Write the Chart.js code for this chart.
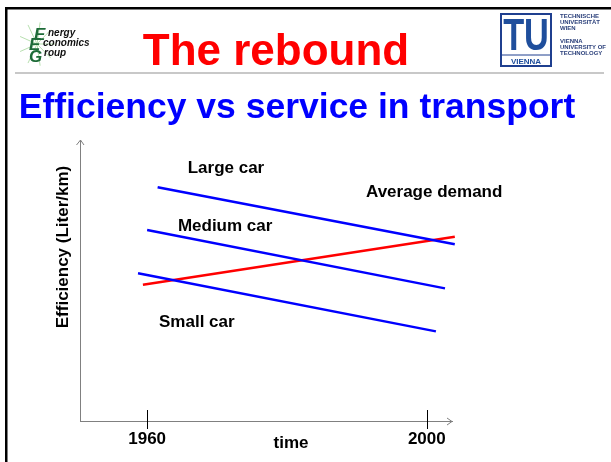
<!DOCTYPE html>
<html>
<head>
<meta charset="utf-8">
<script src="https://cdn.jsdelivr.net/npm/chart.js@4/dist/chart.umd.min.js"></script>
<style>
  body { margin: 0; background: #fff; overflow: hidden; }
  #reboundCanvas { display: block; }
</style>
</head>
<body>
<canvas id="reboundCanvas" width="611" height="462"></canvas>
<script>
const tickYears = [1960, 2000];
const largeCarYears = [1961.5, 2004];
const largeCarEff = [83.2, 62.9];
const mediumCarYears = [1960, 2002.6];
const mediumCarEff = [68.0, 47.2];
const smallCarYears = [1958.7, 2001.3];
const smallCarEff = [52.6, 31.9];
const demandYears = [1959.4, 2004];
const demandEff = [48.5, 65.6];

const FONT = '"Liberation Sans", Arial, sans-serif';

const toPoints = (xs, ys) => xs.map((x, i) => ({ x: x, y: ys[i] }));

// slide frame, logos and headings
const slidePlugin = {
  id: "slide_header",
  beforeDraw: (chart) => {
    const ctx = chart.ctx;
    ctx.save();
    ctx.fillStyle = "#fff";
    ctx.fillRect(0, 0, chart.width, chart.height);

    // black frame top + left
    ctx.fillStyle = "#000";
    ctx.fillRect(5, 7, chart.width - 5, 2.5);
    ctx.fillRect(5, 7, 2.5, chart.height - 7);

    // gray separator
    ctx.fillStyle = "#c8c8c8";
    ctx.fillRect(15, 72, 589, 2);

    // EEG logo
    ctx.strokeStyle = "#b8e0b0";
    ctx.lineWidth = 1;
    for (let i = 0; i < 9; i++) {
      const a = (i / 9) * Math.PI * 2;
      ctx.beginPath();
      ctx.moveTo(37, 44);
      ctx.lineTo(37 + Math.cos(a) * 18, 44 + Math.sin(a) * 22);
      ctx.stroke();
    }
    ctx.fillStyle = "#1d6b38";
    ctx.font = "italic bold 17px " + FONT;
    ctx.textBaseline = "alphabetic";
    ctx.textAlign = "left";
    ctx.fillText("E", 34, 40);
    ctx.fillText("E", 29, 50);
    ctx.fillText("G", 29, 62);
    ctx.fillStyle = "#111";
    ctx.font = "italic bold 10px " + FONT;
    ctx.fillText("nergy", 48, 36);
    ctx.fillText("conomics", 43, 46);
    ctx.fillText("roup", 44, 56);

    // TU Vienna logo
    ctx.strokeStyle = "#1f3f8f";
    ctx.lineWidth = 2;
    ctx.strokeRect(501, 14, 50, 52);
    ctx.beginPath();
    ctx.moveTo(502, 55);
    ctx.lineTo(550, 55);
    ctx.lineWidth = 1;
    ctx.stroke();
    ctx.fillStyle = "#1f4e9c";
    ctx.save();
    ctx.translate(526, 50);
    ctx.scale(0.78, 1);
    ctx.font = "bold 44px " + FONT;
    ctx.textAlign = "center";
    ctx.fillText("TU", 0, 0);
    ctx.restore();
    ctx.font = "bold 8px " + FONT;
    ctx.textAlign = "center";
    ctx.fillText("VIENNA", 526, 64);
    ctx.fillStyle = "#2a3f7a";
    ctx.font = "bold 6px " + FONT;
    ctx.textAlign = "left";
    ["TECHNISCHE", "UNIVERSITÄT", "WIEN"].forEach((t, i) => ctx.fillText(t, 560, 18 + i * 6));
    ["VIENNA", "UNIVERSITY OF", "TECHNOLOGY"].forEach((t, i) => ctx.fillText(t, 560, 43 + i * 6));

    // headings
    ctx.textAlign = "center";
    ctx.fillStyle = "#ff0000";
    ctx.font = "bold 44px " + FONT;
    ctx.fillText("The rebound", 276, 65);
    ctx.fillStyle = "#0000ff";
    ctx.font = "bold 35.5px " + FONT;
    ctx.fillText("Efficiency vs service in transport", 297, 118);
    ctx.restore();
  },
};

// arrows, tick marks, labels and axis titles
const notesPlugin = {
  id: "axis_notes",
  afterDraw: (chart) => {
    const { ctx, chartArea } = chart;
    const xs = chart.scales.x;
    const ys = chart.scales.y;
    ctx.save();
    ctx.strokeStyle = "#808080";
    ctx.lineWidth = 1;
    ctx.beginPath();
    ctx.moveTo(chartArea.left - 3.5, chartArea.top + 5);
    ctx.lineTo(chartArea.left + 0.5, chartArea.top);
    ctx.lineTo(chartArea.left + 4, chartArea.top + 5);
    ctx.moveTo(chartArea.right - 5, chartArea.bottom - 3);
    ctx.lineTo(chartArea.right, chartArea.bottom + 0.5);
    ctx.lineTo(chartArea.right - 5, chartArea.bottom + 4);
    ctx.stroke();

    ctx.strokeStyle = "#000";
    tickYears.forEach((v) => {
      const px = Math.round(xs.getPixelForValue(v)) + 0.5;
      ctx.beginPath();
      ctx.moveTo(px, chartArea.bottom - 11);
      ctx.lineTo(px, chartArea.bottom + 8);
      ctx.stroke();
    });

    ctx.fillStyle = "#000";
    ctx.font = "bold 17px " + FONT;
    ctx.textAlign = "left";
    ctx.textBaseline = "alphabetic";
    const notes = [
      ["Large car", 1965.8, 88.3],
      ["Medium car", 1964.4, 67.7],
      ["Small car", 1961.7, 33.6],
      ["Average demand", 1991.3, 79.6],
    ];
    notes.forEach(([t, x, y]) => ctx.fillText(t, xs.getPixelForValue(x), ys.getPixelForValue(y)));

    ctx.textAlign = "center";
    ctx.fillText("time", 291, 448);
    ctx.translate(68, 247);
    ctx.rotate(-Math.PI / 2);
    ctx.fillText("Efficiency (Liter/km)", 0, 0);
    ctx.restore();
  },
};

const lineStyle = (color) => ({
  borderColor: color,
  backgroundColor: color,
  borderWidth: 2.5,
  pointRadius: 0,
  fill: false,
  tension: 0,
  clip: false,
});

const data = {
  datasets: [
    { label: "Large car", data: toPoints(largeCarYears, largeCarEff), ...lineStyle("#0000ff") },
    { label: "Medium car", data: toPoints(mediumCarYears, mediumCarEff), ...lineStyle("#0000ff") },
    { label: "Small car", data: toPoints(smallCarYears, smallCarEff), ...lineStyle("#0000ff") },
    { label: "Average demand", data: toPoints(demandYears, demandEff), ...lineStyle("#ff0000") },
  ],
};

const config = {
  type: "line",
  data: data,
  options: {
    responsive: false,
    animation: false,
    layout: { padding: { left: 50, top: 140, right: 159, bottom: 0 } },
    plugins: {
      legend: { display: false },
      tooltip: { enabled: false },
    },
    scales: {
      x: {
        type: "linear",
        min: 1950.4,
        max: 2003.6,
        afterBuildTicks: (scale) => {
          scale.ticks = tickYears.map((v) => ({ value: v }));
        },
        afterFit: (scale) => {
          scale.height = 41;
        },
        grid: { display: false, drawTicks: false },
        border: { display: true, color: "#808080", width: 1 },
        ticks: {
          padding: 8,
          color: "#000",
          maxRotation: 0,
          autoSkip: false,
          font: { family: FONT, size: 17, weight: "bold" },
          callback: (v) => String(v),
        },
      },
      y: {
        min: 0,
        max: 100,
        afterFit: (scale) => {
          scale.width = 30;
        },
        grid: { display: false, drawTicks: false },
        border: { display: true, color: "#808080", width: 1 },
        ticks: { display: false },
      },
    },
  },
  plugins: [slidePlugin, notesPlugin],
};

const canvas = document.getElementById("reboundCanvas");
if (canvas) {
  new Chart(canvas.getContext("2d"), config);
} else {
  console.error("canvas not found");
}
</script>
</body>
</html>
